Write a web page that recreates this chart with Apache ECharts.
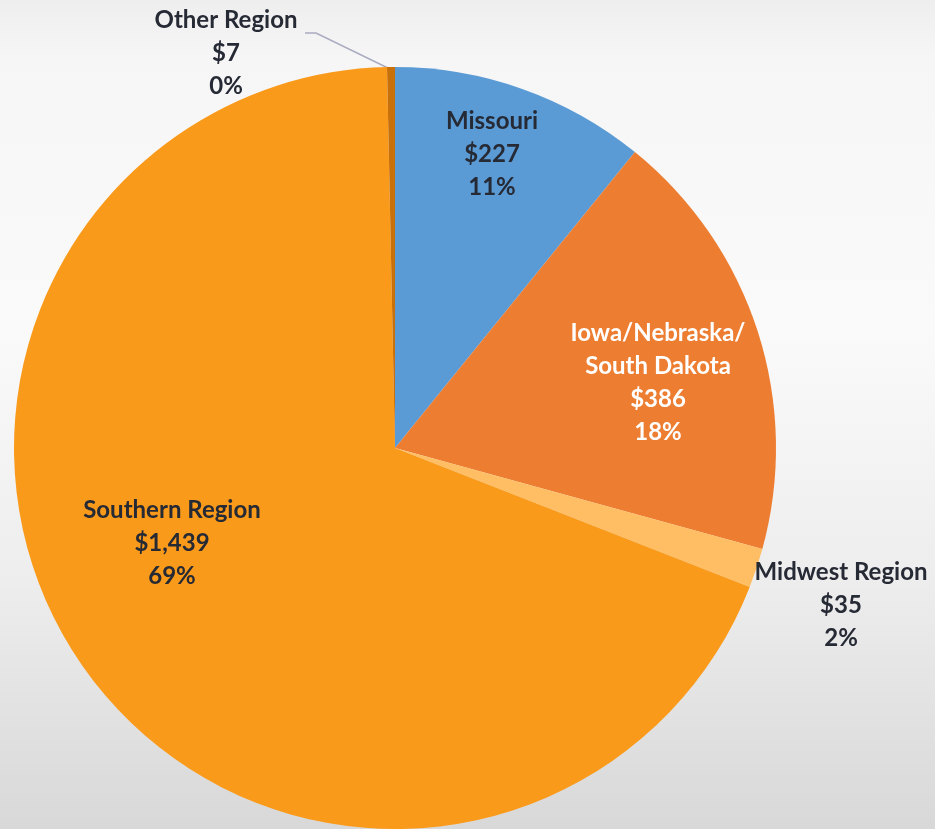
<!DOCTYPE html>
<html>
<head>
<meta charset="utf-8">
<title>Regions</title>
<script src="https://cdn.jsdelivr.net/npm/echarts@6/dist/echarts.min.js"></script>
<style>
    html, body { margin: 0; padding: 0; }
    #chart { width: 935px; height: 829px; }
</style>
</head>
<body>
<div id="chart"></div>
<script>
    // slices, clockwise from 12 o'clock
    var regions = ['Missouri', 'Iowa/Nebraska/\nSouth Dakota', 'Midwest Region', 'Southern Region', 'Other Region'];
    var amounts = [227, 386, 35, 1439, 7];
    var sliceColors = ['#5B9BD5', '#ED7D31', '#FFBE63', '#FA9A1A', '#C8700A'];

    // where each label block sits (centre of the text)
    var labelSpots = [[492, 154], [658, 383], [841, 605], [172, 543], [226, 53]];

    var chart = echarts.init(document.getElementById('chart'));

    var seriesData = regions.map(function (name, i) {
        var item = {
            name: name,
            value: amounts[i],
            itemStyle: { color: sliceColors[i] }
        };
        if (i === 1) {
            item.label = { color: '#ffffff' };
        }
        if (i === 4) {
            item.labelLine = { show: true };
        }
        return item;
    });

    var option = {
        backgroundColor: {
            type: 'linear', x: 0, y: 0, x2: 0, y2: 1,
            colorStops: [
                { offset: 0, color: '#EEEEEE' },
                { offset: 0.07, color: '#F6F6F6' },
                { offset: 0.4, color: '#FAFAFA' },
                { offset: 0.7, color: '#EDEDED' },
                { offset: 1, color: '#D8D8D8' }
            ]
        },
        animation: false,
        series: [{
            type: 'pie',
            center: [395, 448],
            radius: 381,
            startAngle: 90,
            clockwise: true,
            avoidLabelOverlap: false,
            data: seriesData,
            label: {
                show: true,
                position: 'outside',
                fontFamily: 'Lato',
                fontWeight: 'bold',
                fontSize: 24,
                lineHeight: 33,
                color: '#262A35',
                formatter: function (p) {
                    return p.name + '\n$' + p.value.toLocaleString('en-US') + '\n' + Math.round(p.percent) + '%';
                }
            },
            labelLine: {
                show: false,
                lineStyle: { color: '#A9ACC0', width: 1.5 }
            },
            labelLayout: function (params) {
                var spot = labelSpots[params.dataIndex];
                var res = { x: spot[0], y: spot[1], align: 'center', verticalAlign: 'middle' };
                if (params.dataIndex === 4) {
                    res.labelLinePoints = [[390, 69], [316, 33], [305, 33]];
                }
                return res;
            }
        }]
    };

    chart.setOption(option);
</script>
</body>
</html>
